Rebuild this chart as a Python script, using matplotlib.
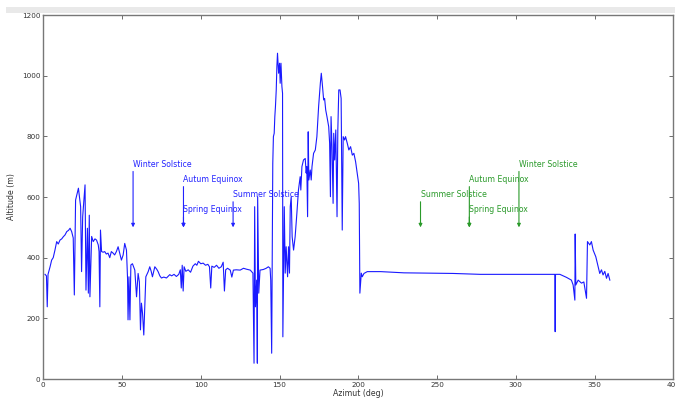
import matplotlib
matplotlib.use("Agg")
import matplotlib.pyplot as plt
from matplotlib.patches import Rectangle

# Horizon profile (azimuth in degrees, altitude in metres)
azimuth = [1.1, 2.0, 2.5, 3.0, 4.3, 5.3, 6.3, 7.4, 8.5, 9.5, 10.6, 11.7, 12.7, 13.8, 14.9, 16, 17, 18, 19,
           19.7, 20.5, 22.3, 23.7, 24.3, 25, 26.5, 27.1, 28, 28.6, 29.2, 29.6, 30.7, 31.7, 32.8, 33.8, 34.9,
           35.4, 35.9, 36.3, 37, 38, 39, 40, 41.1, 42.2, 43.2, 44.3, 45.3, 46.4, 47.5, 48.5, 49.6, 50.7,
           51.7, 52.8, 53.5, 53.8, 54.4, 55, 55.6, 56.6, 57.3, 58.1, 59.2, 60.2, 61, 61.7, 62.3, 63, 63.8,
           64.5, 65.1, 66.6, 67.6, 68.5, 69.3, 70.8, 72, 72.9, 74, 75, 76.5, 78.2, 80.3,
           81.5, 83, 84.5, 86, 87, 87.6, 88.2, 88.8, 89.4, 90.5, 92, 93.5, 95, 96.5, 97.5, 98.5, 100,
           101.5, 103, 104.5, 105.5, 106.3, 107, 108.5, 110, 111.5, 113, 114.2, 115, 115.8, 117, 118.7,
           119.7, 120.7, 122.5, 125, 127.1, 129, 131.4, 133.1,
           133.8, 134.2, 134.7, 135.5, 135.9, 136.1, 136.8, 137.6, 139.7, 141.5, 142.9, 144, 144.4, 145,
           145.5, 145.7, 146.1, 146.6, 147, 147.4, 147.9, 148.3, 148.7, 149.4, 150, 150.4, 150.9, 151.5,
           151.9, 152.1, 153, 153.6, 154.2, 155.1, 155.7, 156.3, 156.8, 157.4, 158, 158.9, 159.9, 161,
           162, 163.1, 163.5, 164.2, 165.2, 166.3, 166.9, 167.3, 167.8, 168.2, 168.6, 169.5, 170.1,
           170.6, 171.6, 172.7, 173.7, 174.8, 175.9, 176.5, 177.1, 178, 178.6, 179.3, 180.1, 181.2,
           181.8, 182.3, 182.7, 183.3, 184, 184.4, 185, 185.7, 186.5, 187, 187.6, 188.4, 189.1, 189.8,
           190.4, 191.3, 191.9, 193, 194, 195.1, 196.2, 197.2, 198.3, 199.3, 200.2, 200.6, 201, 201.9,
           202.5, 203.6, 205.7, 214.2, 229, 260, 277.5, 302.7, 324.8, 325, 325.2, 328, 332.2, 335.3,
           336.4, 337.5, 337.7, 338.1, 339.6, 341.7, 343.2, 344.9, 345.5, 347, 348, 349.1, 350.8, 352.3,
           353.3, 354.4, 355.4, 356.5, 357.6, 358.6, 359.7]
altitude = [345, 340, 238, 345, 370, 392, 400, 425, 453, 445, 458, 462, 469, 475, 486, 490, 497, 486, 465,
            277, 590, 629, 568, 354, 535, 640, 293, 497, 283, 540, 271, 470, 453, 462, 458, 442,
            420, 238, 491, 420, 418, 420, 412, 415, 400, 420, 415, 409, 420, 436, 415, 392, 409,
            447, 425, 330, 195, 337, 195, 376, 380, 370, 359, 271, 348, 320, 162, 250, 217, 145,
            250, 337, 354, 370, 355, 337, 370, 362, 354, 340, 333, 336, 333, 344,
            340, 345, 338, 345, 360, 300, 375, 290, 370, 355, 360, 352, 372, 380, 375, 388, 380,
            382, 375, 378, 370, 300, 372, 368, 375, 365, 370, 385, 290, 360, 365, 359,
            336, 359, 360, 359, 365, 362, 359, 349,
            52, 568, 238, 326, 52, 601, 283, 359, 361, 365, 370, 365, 326, 85,
            568, 711, 799, 810, 865, 898, 953, 1030, 1074, 1008, 1041, 975, 1041, 964,
            942, 139, 568, 349, 436, 337, 436, 349, 568, 601, 469, 425, 469, 546,
            623, 667, 623, 700, 722, 727, 679, 700, 535, 815, 656, 689, 656,
            700, 744, 755, 799, 898, 975, 1008, 975, 920, 925, 887, 865, 832,
            777, 601, 865, 766, 579, 810, 722, 821, 535, 821, 953, 953, 925, 491,
            799, 788, 799, 777, 755, 766, 738, 744, 716, 679, 645, 579, 283, 349,
            337, 348, 354, 354, 350, 348, 345, 345, 345, 156, 345, 345, 335, 326,
            310, 260, 478, 310, 326, 316, 320, 266, 453, 442, 453, 425, 403, 370,
            348, 360, 343, 355, 332, 348, 326]

# Annotations: (label, azimuth, text altitude)
blue_labels = ["Winter Solstice", "Autum Equinox", "Spring Equinox", "Summer Solstice"]
blue_az = [57, 89, 89, 120.5]
blue_text_alt = [700, 650, 550, 600]
green_labels = ["Summer Solstice", "Autum Equinox", "Spring Equinox", "Winter Solstice"]
green_az = [239.5, 270.5, 270.5, 302]
green_text_alt = [600, 650, 550, 700]
arrow_alt = 500

W, H = 675, 398
fig = plt.figure(figsize=(W / 100, H / 100), dpi=100)
fig.patches.append(Rectangle((6 / W, 1 - 13 / H), 1 - 6 / W, 6 / H, transform=fig.transFigure,
                             facecolor="#e9e9e9", edgecolor="none", zorder=0))
ax = fig.add_axes([43.3 / W, 1 - 379 / H, (673.3 - 43.3) / W, (379 - 15) / H])

ax.plot(azimuth, altitude, color="#1a1aff", lw=0.8)

for labels, azs, alts, col in [(blue_labels, blue_az, blue_text_alt, "#2222ff"),
                               (green_labels, green_az, green_text_alt, "#2a9a2a")]:
    for lab, a, t in zip(labels, azs, alts):
        ax.annotate(lab, xy=(a, arrow_alt), xytext=(a, t), color=col, fontsize=5.6,
                    ha="left", va="baseline",
                    arrowprops=dict(arrowstyle="-|>", color=col, lw=0.8, relpos=(0, 0),
                                    shrinkA=0, shrinkB=0, mutation_scale=5))

ax.set_xlim(0, 400)
ax.set_ylim(0, 1200)
ax.set_xticks(range(0, 401, 50))
ax.set_yticks(range(0, 1201, 200))
ax.tick_params(direction="in", top=True, right=True, labelsize=5.2, length=3, width=0.6,
               colors="#555555", labelcolor="#333333", pad=2)
for s in ax.spines.values():
    s.set_color("#777777")
    s.set_linewidth(1.0)
ax.set_xlabel("Azimut (deg)", fontsize=5.6, color="#333333", labelpad=1)
ax.set_ylabel("Altitude (m)", fontsize=5.6, color="#333333", labelpad=4)

fig.savefig("out.png", dpi=100)
